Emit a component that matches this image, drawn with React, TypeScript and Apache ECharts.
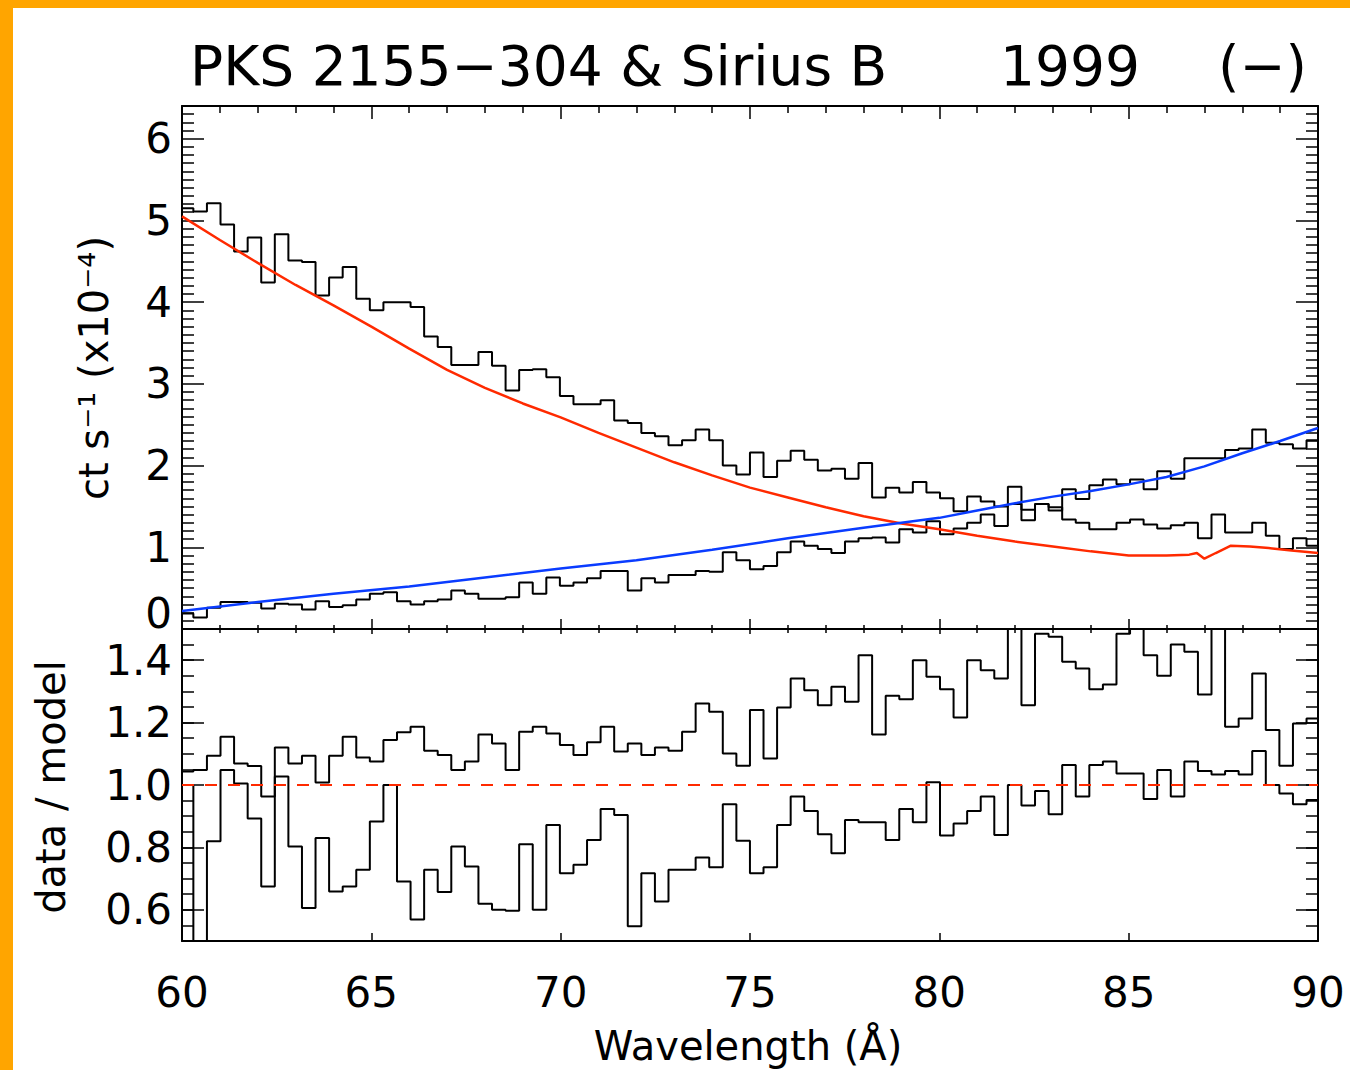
import React, { useEffect, useRef } from "react";
import * as echarts from "echarts";

// ---------- data ----------
const X_MIN = 60;
const X_MAX = 90;
const X_STEP = 5;
// wavelength bins (Å): first bin ends at 60.30, then uniform width
const FIRST_BIN_END = 60.3;
const BIN_WIDTH = 0.3585;

// count rate (x10^-4 ct/s) of the spectrum falling with wavelength
const countsFalling = [
  5.15, 5.11, 5.21, 4.95, 4.62, 4.79, 4.24, 4.83, 4.51, 4.49,
  4.08, 4.3, 4.43, 4.04, 3.9, 4.0, 4.0, 3.94, 3.58, 3.45,
  3.23, 3.23, 3.39, 3.22, 2.92, 3.17, 3.18, 3.08, 2.85, 2.75,
  2.75, 2.8, 2.55, 2.52, 2.4, 2.36, 2.25, 2.31, 2.44, 2.31,
  2.0, 1.89, 2.16, 1.86, 2.06, 2.18, 2.07, 1.94, 1.96, 1.84,
  2.03, 1.61, 1.73, 1.67, 1.8, 1.67, 1.6, 1.44, 1.62, 1.56,
  1.5, 1.74, 1.33, 1.53, 1.49, 1.34, 1.3, 1.22, 1.22, 1.3,
  1.34, 1.28, 1.23, 1.27, 1.3, 1.11, 1.4, 1.18, 1.18, 1.3,
  1.14, 0.98, 1.11, 1.02,
];

// count rate of the spectrum rising with wavelength
const countsRising = [
  0.19, 0.14, 0.26, 0.33, 0.33, 0.32, 0.25, 0.31, 0.3, 0.24,
  0.34, 0.27, 0.29, 0.36, 0.43, 0.45, 0.34, 0.3, 0.34, 0.36,
  0.47, 0.43, 0.37, 0.37, 0.39, 0.57, 0.43, 0.63, 0.53, 0.57,
  0.62, 0.71, 0.71, 0.47, 0.62, 0.57, 0.66, 0.66, 0.71, 0.7,
  0.94, 0.84, 0.73, 0.77, 0.94, 1.07, 1.02, 0.98, 0.93, 1.07,
  1.11, 1.12, 1.06, 1.22, 1.18, 1.32, 1.16, 1.23, 1.3, 1.4,
  1.26, 1.53, 1.46, 1.53, 1.45, 1.71, 1.59, 1.76, 1.83, 1.77,
  1.83, 1.71, 1.93, 1.84, 2.09, 2.09, 2.09, 2.19, 2.21, 2.44,
  2.28, 2.26, 2.21, 2.31,
];

// data / model ratios
const ratioFalling = [
  1.043, 1.048, 1.094, 1.155, 1.069, 1.061, 0.963, 1.12, 1.069, 1.094,
  1.008, 1.094, 1.155, 1.088, 1.075, 1.144, 1.169, 1.187, 1.11, 1.096,
  1.048, 1.075, 1.162, 1.133, 1.048, 1.171, 1.187, 1.165, 1.128, 1.096,
  1.137, 1.187, 1.107, 1.133, 1.096, 1.12, 1.11, 1.171, 1.261, 1.235,
  1.101, 1.062, 1.24, 1.085, 1.248, 1.341, 1.304, 1.256, 1.315, 1.267,
  1.416, 1.162, 1.286, 1.275, 1.4, 1.347, 1.307, 1.216, 1.4, 1.368,
  1.341, 1.55, 1.256, 1.485, 1.475, 1.395, 1.373, 1.307, 1.322, 1.485,
  1.55, 1.416, 1.35, 1.45, 1.427, 1.29, 1.55, 1.187, 1.213, 1.357,
  1.176, 1.062, 1.197, 1.213,
];

const ratioRising = [
  1.0, 0.45, 0.82, 1.048, 1.005, 0.893, 0.675, 1.027, 0.803, 0.606,
  0.83, 0.659, 0.675, 0.728, 0.883, 1.0, 0.691, 0.569, 0.728, 0.657,
  0.803, 0.739, 0.619, 0.6, 0.597, 0.81, 0.6, 0.872, 0.717, 0.744,
  0.824, 0.923, 0.904, 0.547, 0.717, 0.627, 0.728, 0.728, 0.768, 0.736,
  0.938, 0.821, 0.717, 0.736, 0.872, 0.963, 0.917, 0.842, 0.781, 0.888,
  0.881, 0.881, 0.824, 0.923, 0.881, 1.009, 0.838, 0.877, 0.917, 0.963,
  0.84, 1.0, 0.934, 0.981, 0.906, 1.064, 0.963, 1.064, 1.075, 1.037,
  1.037, 0.955, 1.048, 0.963, 1.075, 1.045, 1.034, 1.045, 1.034, 1.109,
  1.0, 0.973, 0.938, 0.952,
];

// model curves
const redModelLambda = [
  60, 61, 62, 63, 64, 65, 66, 67, 68, 69, 70, 71, 72, 73, 74, 75, 76, 77, 78,
  79, 80, 81, 82, 83, 84, 85, 86, 86.6, 86.8, 87.0, 87.3, 87.7, 88.2, 88.7,
  89.3, 90,
];
const redModelValues = [
  5.05, 4.76, 4.48, 4.21, 3.96, 3.7, 3.43, 3.17, 2.95, 2.76, 2.59, 2.4, 2.22,
  2.04, 1.88, 1.73, 1.61, 1.49, 1.38, 1.29, 1.22, 1.14, 1.07, 1.01, 0.95, 0.9,
  0.9, 0.91, 0.93, 0.86, 0.93, 1.02, 1.01, 0.99, 0.96, 0.93,
];
const blueModelLambda = [
  60, 62, 64, 66, 68, 70, 72, 74, 76, 78, 80, 81, 82, 83, 84, 85, 86, 87, 88,
  89, 90,
];
const blueModelValues = [
  0.22, 0.33, 0.43, 0.52, 0.63, 0.74, 0.84, 0.97, 1.11, 1.24, 1.36, 1.45, 1.54,
  1.62, 1.69, 1.77, 1.86, 1.99, 2.15, 2.3, 2.46,
];

const ratioUnity = 1.0;
const countsAxis = { min: 0, max: 6.4, interval: 1 };
const ratioAxis = { min: 0.5, max: 1.5, minorInterval: 0.05 };
const ratioMajorTicks = [0.6, 0.8, 1.0, 1.2, 1.4];

const titleMain = "PKS 2155\u2212304 & Sirius B";
const titleYear = "1999";
const titleSign = "(\u2212)";
const yTitleUpper = "ct s\u207B\u00B9 (x10\u207B\u2074)";
const yTitleLower = "data / model";
const xTitle = "Wavelength (\u00C5)";

// ---------- helpers ----------
function binLeft(k: number): number {
  return k === 0 ? X_MIN : FIRST_BIN_END + BIN_WIDTH * (k - 1);
}
function toSteps(values: number[]): number[][] {
  const pts = values.map((v, k) => [binLeft(k), v]);
  pts.push([X_MAX, values[values.length - 1]]);
  return pts;
}
function zip(xs: number[], ys: number[]): number[][] {
  return xs.map((x, i) => [x, ys[i]]);
}

const FONT = "DejaVu Sans";
const BLACK = "#000";
const RED = "#ff2a00";
const BLUE = "#0a3cff";
const ORANGE = "#ffa500";

const lineStyle = { color: BLACK, width: 2 };
const tickLine = { color: BLACK, width: 1.5 };

function xAxisDef(grid: number, position: string, major: number, minor: number, labels: boolean) {
  return {
    gridIndex: grid,
    type: "value",
    position,
    min: X_MIN,
    max: X_MAX,
    interval: X_STEP,
    axisLine: { show: true, onZero: false, lineStyle },
    axisTick: { show: true, inside: true, length: major, lineStyle: tickLine },
    minorTick: { show: minor > 0, splitNumber: 5, length: minor, lineStyle: tickLine },
    axisLabel: {
      show: labels,
      margin: 30,
      fontSize: 42,
      fontFamily: FONT,
      color: BLACK,
    },
    splitLine: { show: false },
    minorSplitLine: { show: false },
  };
}

export default function App() {
  const ref = useRef<HTMLDivElement>(null);

  useEffect(() => {
    if (!ref.current) return;
    const chart = echarts.init(ref.current, undefined, { renderer: "svg" });

    const upperLabelFormatter = (v: number) => {
      const r = Math.round(v);
      if (Math.abs(v - r) > 1e-6) return "";
      if (r === 0) return "{lift|0}";
      return String(r);
    };

    const option: any = {
      animation: false,
      backgroundColor: "#fff",
      grid: [
        { left: 182, right: 32, top: 106, height: 523 },
        { left: 182, right: 32, top: 629, height: 312 },
      ],
      xAxis: [
        xAxisDef(0, "bottom", 10, 4, false),
        xAxisDef(0, "top", 13, 7, false),
        xAxisDef(1, "top", 5, 4, false),
        xAxisDef(1, "bottom", 8, 0, true),
      ],
      yAxis: [
        {
          gridIndex: 0,
          type: "value",
          position: "left",
          min: countsAxis.min,
          max: countsAxis.max,
          interval: countsAxis.interval,
          axisLine: { show: true, onZero: false, lineStyle },
          axisTick: { show: true, inside: true, length: 22, lineStyle: tickLine },
          minorTick: { show: true, splitNumber: 10, length: 12, lineStyle: tickLine },
          axisLabel: {
            show: true,
            margin: 10,
            fontSize: 42,
            fontFamily: FONT,
            color: BLACK,
            formatter: upperLabelFormatter,
            rich: {
              lift: { fontSize: 42, fontFamily: FONT, color: BLACK, padding: [0, 0, 32, 0] },
            },
          },
          splitLine: { show: false },
          minorSplitLine: { show: false },
        },
        {
          gridIndex: 0,
          type: "value",
          position: "right",
          min: countsAxis.min,
          max: countsAxis.max,
          interval: countsAxis.interval,
          axisLine: { show: true, onZero: false, lineStyle },
          axisTick: { show: true, inside: true, length: 22, lineStyle: tickLine },
          minorTick: { show: true, splitNumber: 10, length: 12, lineStyle: tickLine },
          axisLabel: { show: false },
          splitLine: { show: false },
          minorSplitLine: { show: false },
        },
        {
          gridIndex: 1,
          type: "value",
          position: "left",
          min: ratioAxis.min,
          max: ratioAxis.max,
          interval: ratioAxis.minorInterval,
          axisLine: { show: true, onZero: false, lineStyle },
          axisTick: { show: true, inside: true, length: 12, lineStyle: tickLine },
          axisLabel: { show: false },
          splitLine: { show: false },
        },
        {
          gridIndex: 1,
          type: "value",
          position: "left",
          min: ratioAxis.min,
          max: ratioAxis.max,
          axisLine: { show: false, onZero: false },
          axisTick: {
            show: true,
            inside: true,
            length: 22,
            lineStyle: tickLine,
            customValues: ratioMajorTicks,
          },
          axisLabel: {
            show: true,
            margin: 10,
            fontSize: 42,
            fontFamily: FONT,
            color: BLACK,
            customValues: ratioMajorTicks,
            formatter: (v: number) => v.toFixed(1),
          },
          splitLine: { show: false },
        },
        {
          gridIndex: 1,
          type: "value",
          position: "right",
          min: ratioAxis.min,
          max: ratioAxis.max,
          interval: ratioAxis.minorInterval,
          axisLine: { show: true, onZero: false, lineStyle },
          axisTick: { show: true, inside: true, length: 12, lineStyle: tickLine },
          axisLabel: { show: false },
          splitLine: { show: false },
        },
        {
          gridIndex: 1,
          type: "value",
          position: "right",
          min: ratioAxis.min,
          max: ratioAxis.max,
          axisLine: { show: false, onZero: false },
          axisTick: {
            show: true,
            inside: true,
            length: 22,
            lineStyle: tickLine,
            customValues: ratioMajorTicks,
          },
          axisLabel: { show: false },
          splitLine: { show: false },
        },
      ],
      series: [
        {
          name: "falling counts",
          type: "line",
          xAxisIndex: 0,
          yAxisIndex: 0,
          step: "end",
          symbol: "none",
          silent: true,
          data: toSteps(countsFalling),
          lineStyle: { color: BLACK, width: 2 },
          z: 2,
        },
        {
          name: "rising counts",
          type: "line",
          xAxisIndex: 0,
          yAxisIndex: 0,
          step: "end",
          symbol: "none",
          silent: true,
          data: toSteps(countsRising),
          lineStyle: { color: BLACK, width: 2 },
          z: 2,
        },
        {
          name: "red model",
          type: "line",
          xAxisIndex: 0,
          yAxisIndex: 0,
          symbol: "none",
          silent: true,
          data: zip(redModelLambda, redModelValues),
          lineStyle: { color: RED, width: 2.5 },
          z: 3,
        },
        {
          name: "blue model",
          type: "line",
          xAxisIndex: 0,
          yAxisIndex: 0,
          symbol: "none",
          silent: true,
          data: zip(blueModelLambda, blueModelValues),
          lineStyle: { color: BLUE, width: 2.5 },
          z: 3,
        },
        {
          name: "falling ratio",
          type: "line",
          xAxisIndex: 3,
          yAxisIndex: 2,
          step: "end",
          symbol: "none",
          silent: true,
          data: toSteps(ratioFalling),
          lineStyle: { color: BLACK, width: 2 },
          z: 2,
        },
        {
          name: "rising ratio",
          type: "line",
          xAxisIndex: 3,
          yAxisIndex: 2,
          step: "end",
          symbol: "none",
          silent: true,
          data: toSteps(ratioRising),
          lineStyle: { color: BLACK, width: 2 },
          z: 2,
        },
        {
          name: "unity",
          type: "line",
          xAxisIndex: 3,
          yAxisIndex: 2,
          symbol: "none",
          silent: true,
          data: [
            [X_MIN, ratioUnity],
            [X_MAX, ratioUnity],
          ],
          lineStyle: { color: RED, width: 2, type: [12, 11] },
          z: 3,
        },
      ],
      graphic: [
        { type: "rect", left: 0, top: 0, shape: { x: 0, y: 0, width: 13, height: 1070 }, style: { fill: ORANGE }, silent: true, z: 100 },
        { type: "rect", left: 0, top: 0, shape: { x: 0, y: 0, width: 1350, height: 8 }, style: { fill: ORANGE }, silent: true, z: 100 },
        {
          type: "text",
          x: 190,
          y: 66,
          style: { text: titleMain, fontSize: 55, fontFamily: FONT, fill: BLACK, align: "left", verticalAlign: "middle", textAlign: "left", textVerticalAlign: "middle" },
        },
        {
          type: "text",
          x: 1000,
          y: 66,
          style: { text: titleYear, fontSize: 55, fontFamily: FONT, fill: BLACK, align: "left", verticalAlign: "middle", textAlign: "left", textVerticalAlign: "middle" },
        },
        {
          type: "text",
          x: 1218,
          y: 66,
          style: { text: titleSign, fontSize: 55, fontFamily: FONT, fill: BLACK, align: "left", verticalAlign: "middle", textAlign: "left", textVerticalAlign: "middle" },
        },
        {
          type: "text",
          x: 94,
          y: 368,
          rotation: Math.PI / 2,
          style: { text: yTitleUpper, fontSize: 40, fontFamily: FONT, fill: BLACK, align: "center", verticalAlign: "middle", textAlign: "center", textVerticalAlign: "middle" },
        },
        {
          type: "text",
          x: 51,
          y: 787,
          rotation: Math.PI / 2,
          style: { text: yTitleLower, fontSize: 40, fontFamily: FONT, fill: BLACK, align: "center", verticalAlign: "middle", textAlign: "center", textVerticalAlign: "middle" },
        },
        {
          type: "text",
          x: 748,
          y: 1046,
          style: { text: xTitle, fontSize: 40, fontFamily: FONT, fill: BLACK, align: "center", verticalAlign: "middle", textAlign: "center", textVerticalAlign: "middle" },
        },
      ],
    };

    chart.setOption(option);
    return () => {
      chart.dispose();
    };
  }, []);

  return (
    <div
      ref={ref}
      style={{ position: "absolute", left: 0, top: 0, width: 1350, height: 1070, background: "#fff" }}
    />
  );
}
